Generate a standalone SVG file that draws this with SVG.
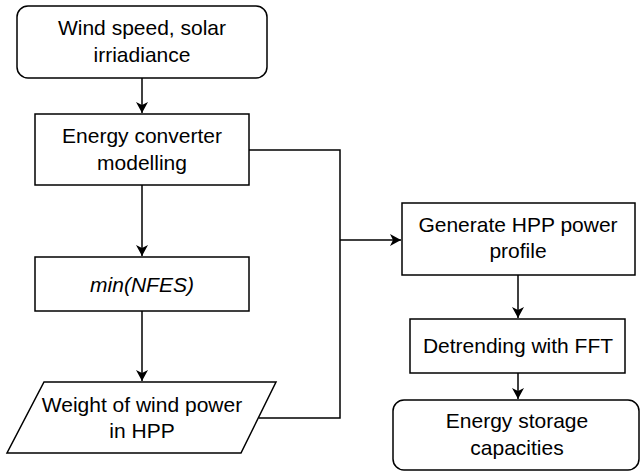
<svg xmlns="http://www.w3.org/2000/svg" width="641" height="472" viewBox="0 0 641 472">
<defs>
<marker id="arr" viewBox="0 0 11 12" refX="11" refY="6" markerWidth="11" markerHeight="12" markerUnits="userSpaceOnUse" orient="auto">
<path d="M0,0 L11,6 L0,12 L3,6 Z" fill="#000"/>
</marker>
</defs>
<style>
.n{fill:#fff;stroke:#000;stroke-width:1.5}
.t{font-family:"Liberation Sans",Arial,sans-serif;font-size:21px;fill:#000;text-anchor:middle}
.e{fill:none;stroke:#000;stroke-width:1.5}
</style>
<g id="connectors">
<path class="e" d="M142,78 V113" marker-end="url(#arr)"/>
<path class="e" d="M142,185 V256" marker-end="url(#arr)"/>
<path class="e" d="M142,311 V381" marker-end="url(#arr)"/>
<path class="e" d="M249,150 H340 V418 H259"/>
<path class="e" d="M340,240 H401" marker-end="url(#arr)"/>
<path class="e" d="M518,275 V318" marker-end="url(#arr)"/>
<path class="e" d="M518,373 V399" marker-end="url(#arr)"/>
</g>
<g id="wind">
<rect class="n" x="17" y="6" width="250" height="72" rx="11"/>
<text class="t" x="142" y="35">Wind speed, solar</text>
<text class="t" x="142" y="62">irriadiance</text>
</g>
<g id="converter">
<rect class="n" x="35" y="114" width="214" height="71"/>
<text class="t" x="142" y="143">Energy converter</text>
<text class="t" x="142" y="170">modelling</text>
</g>
<g id="nfes">
<rect class="n" x="35" y="257" width="214" height="54"/>
<text class="t" x="142" y="292" font-style="italic">min(NFES)</text>
</g>
<g id="weight">
<path class="n" d="M44,382 H276 L241,453 H7 Z"/>
<text class="t" x="142" y="412">Weight of wind power</text>
<text class="t" x="142" y="438">in HPP</text>
</g>
<g id="generate">
<rect class="n" x="402" y="203" width="233" height="72"/>
<text class="t" x="518" y="232">Generate HPP power</text>
<text class="t" x="518" y="258">profile</text>
</g>
<g id="detrending">
<rect class="n" x="410" y="319" width="215" height="54"/>
<text class="t" x="518" y="353">Detrending with FFT</text>
</g>
<g id="storage">
<rect class="n" x="393" y="400" width="246" height="70" rx="11"/>
<text class="t" x="517" y="428">Energy storage</text>
<text class="t" x="517" y="455">capacities</text>
</g>
</svg>
